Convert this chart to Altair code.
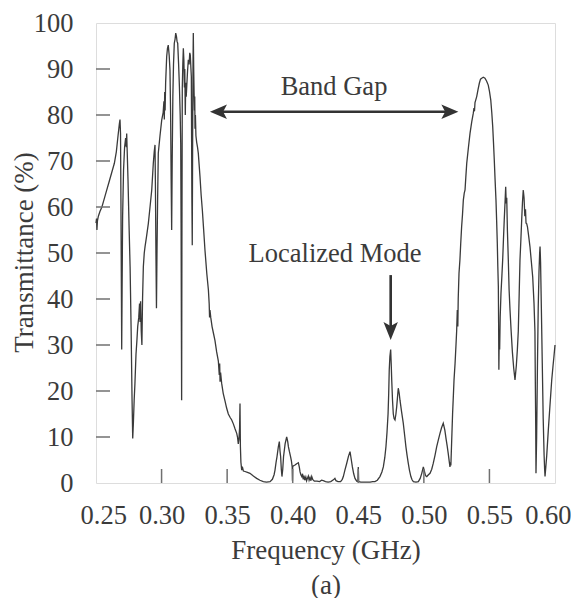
import altair as alt
import pandas as pd

# ---- spectrum ----
freq = [
    0.2500, 0.2504, 0.2507, 0.2511, 0.2518, 0.2530, 0.2545, 0.2560, 0.2580, 0.2600,
    0.2620, 0.2640, 0.2655, 0.2668, 0.2678, 0.2683, 0.2687, 0.2690, 0.2693, 0.2696,
    0.2699, 0.2703, 0.2710, 0.2718, 0.2726, 0.2731, 0.2734, 0.2738, 0.2744, 0.2752,
    0.2760, 0.2768, 0.2775, 0.2780, 0.2785, 0.2791, 0.2797, 0.2805, 0.2812, 0.2818,
    0.2826, 0.2832, 0.2836, 0.2840, 0.2845, 0.2850, 0.2855, 0.2861, 0.2868, 0.2874,
    0.2885, 0.2899, 0.2912, 0.2925, 0.2937, 0.2944, 0.2950, 0.2953, 0.2957, 0.2961,
    0.2965, 0.2970, 0.2975, 0.2988, 0.3001, 0.3012, 0.3018, 0.3021, 0.3024, 0.3027,
    0.3031, 0.3039, 0.3045, 0.3051, 0.3058, 0.3064, 0.3069, 0.3073, 0.3077, 0.3081,
    0.3086, 0.3091, 0.3097, 0.3103, 0.3108, 0.3114, 0.3118, 0.3123, 0.3130, 0.3136,
    0.3142, 0.3146, 0.3149, 0.3151, 0.3153, 0.3155, 0.3158, 0.3162, 0.3166, 0.3170,
    0.3174, 0.3177, 0.3181, 0.3184, 0.3188, 0.3192, 0.3198, 0.3204, 0.3210, 0.3215,
    0.3219, 0.3224, 0.3227, 0.3229, 0.3231, 0.3234, 0.3237, 0.3240, 0.3242, 0.3245,
    0.3248, 0.3251, 0.3253, 0.3255, 0.3258, 0.3262, 0.3268, 0.3274, 0.3280, 0.3293,
    0.3302, 0.3311, 0.3321, 0.3331, 0.3345, 0.3357, 0.3363, 0.3366, 0.3369, 0.3375,
    0.3385, 0.3396, 0.3407, 0.3420, 0.3433, 0.3440, 0.3443, 0.3446, 0.3450, 0.3458,
    0.3470, 0.3484, 0.3496, 0.3509, 0.3522, 0.3535, 0.3548, 0.3560, 0.3573, 0.3579,
    0.3585, 0.3590, 0.3595, 0.3598, 0.3601, 0.3605, 0.3611, 0.3618, 0.3624, 0.3636,
    0.3655, 0.3674, 0.3700, 0.3725, 0.3750, 0.3776, 0.3800, 0.3827, 0.3845, 0.3858,
    0.3865, 0.3873, 0.3880, 0.3890, 0.3898, 0.3903, 0.3908, 0.3913, 0.3918, 0.3924,
    0.3930, 0.3942, 0.3954, 0.3962, 0.3967, 0.3975, 0.3984, 0.3990, 0.3996, 0.3998,
    0.4000, 0.4010, 0.4018, 0.4030, 0.4043, 0.4050, 0.4056, 0.4062, 0.4069, 0.4075,
    0.4080, 0.4086, 0.4092, 0.4100, 0.4106, 0.4112, 0.4119, 0.4125, 0.4132, 0.4139,
    0.4145, 0.4152, 0.4165, 0.4185, 0.4205, 0.4220, 0.4233, 0.4250, 0.4270, 0.4290,
    0.4305, 0.4315, 0.4322, 0.4330, 0.4345, 0.4365, 0.4378, 0.4386, 0.4398, 0.4412,
    0.4425, 0.4437, 0.4447, 0.4455, 0.4465, 0.4475, 0.4488, 0.4497, 0.4500, 0.4503,
    0.4520, 0.4540, 0.4559, 0.4590, 0.4610, 0.4627, 0.4645, 0.4665, 0.4680, 0.4691,
    0.4702, 0.4711, 0.4719, 0.4727, 0.4732, 0.4736, 0.4741, 0.4747, 0.4751, 0.4755,
    0.4761, 0.4767, 0.4773, 0.4780, 0.4787, 0.4793, 0.4800, 0.4805, 0.4812, 0.4818,
    0.4830, 0.4843, 0.4855, 0.4863, 0.4872, 0.4881, 0.4890, 0.4901, 0.4910, 0.4920,
    0.4940, 0.4958, 0.4972, 0.4984, 0.4996, 0.5004, 0.5013, 0.5022, 0.5035, 0.5047,
    0.5060, 0.5072, 0.5085, 0.5098, 0.5110, 0.5123, 0.5135, 0.5148, 0.5160, 0.5170,
    0.5178, 0.5186, 0.5193, 0.5199, 0.5203, 0.5206, 0.5212, 0.5219, 0.5225, 0.5230,
    0.5238, 0.5245, 0.5250, 0.5255, 0.5259, 0.5262, 0.5268, 0.5275, 0.5281, 0.5288,
    0.5295, 0.5301, 0.5308, 0.5314, 0.5320, 0.5327, 0.5340, 0.5352, 0.5365, 0.5377,
    0.5382, 0.5386, 0.5390, 0.5403, 0.5413, 0.5423, 0.5432, 0.5441, 0.5453, 0.5466,
    0.5478, 0.5491, 0.5500, 0.5510, 0.5518, 0.5525, 0.5531, 0.5537, 0.5543, 0.5550,
    0.5555, 0.5560, 0.5564, 0.5568, 0.5570, 0.5572, 0.5575, 0.5578, 0.5582, 0.5588,
    0.5595, 0.5601, 0.5607, 0.5613, 0.5619, 0.5624, 0.5628, 0.5632, 0.5637, 0.5644,
    0.5650, 0.5657, 0.5665, 0.5675, 0.5685, 0.5695, 0.5705, 0.5713, 0.5720, 0.5727,
    0.5733, 0.5740, 0.5746, 0.5752, 0.5758, 0.5764, 0.5770, 0.5775, 0.5779, 0.5784,
    0.5790, 0.5800, 0.5809, 0.5820, 0.5830, 0.5840, 0.5847, 0.5850, 0.5853, 0.5855,
    0.5860, 0.5866, 0.5872, 0.5878, 0.5883, 0.5886, 0.5890, 0.5896, 0.5903, 0.5910,
    0.5917, 0.5921, 0.5924, 0.5930, 0.5937, 0.5949, 0.5962, 0.5975, 0.5985, 0.5992,
    0.6000,
]
trans = [
    56.5, 57.5, 55.0, 57.0, 58.0, 59.0, 60.0, 61.5, 63.5, 65.5,
    67.5, 69.5, 72.0, 75.5, 78.0, 79.0, 76.0, 62.0, 45.0, 29.0,
    42.0, 58.0, 68.0, 73.0, 75.0, 73.0, 76.0, 72.0, 66.0, 56.0,
    47.0, 33.0, 18.0, 9.7, 13.0, 18.0, 21.7, 28.0, 31.0, 34.0,
    36.0, 39.0, 35.0, 39.5, 33.0, 30.0, 40.0, 47.0, 50.0, 51.4,
    53.5, 56.4, 60.0, 63.7, 69.5, 72.0, 73.5, 65.0, 50.0, 38.0,
    50.0, 62.0, 71.7, 75.5, 78.9, 80.5, 83.0, 79.0, 85.0, 81.0,
    87.0, 92.7, 94.5, 95.2, 93.0, 89.8, 80.0, 66.0, 55.0, 70.0,
    84.0, 91.0, 95.6, 96.5, 97.8, 97.0, 96.0, 95.6, 91.0, 86.2,
    80.0, 73.8, 55.0, 35.0, 18.0, 50.0, 86.0, 91.0, 94.5, 92.0,
    86.0, 90.0, 80.0, 87.0, 84.0, 86.2, 89.5, 92.0, 91.0, 93.5,
    93.0, 90.0, 88.3, 75.0, 62.0, 51.7, 75.0, 92.0, 97.8, 90.0,
    84.8, 81.0, 84.0, 77.0, 80.0, 75.5, 74.0, 73.0, 71.7, 66.6,
    62.5, 59.3, 55.0, 50.6, 45.5, 42.0, 39.0, 36.0, 37.6, 36.0,
    34.0, 32.5, 31.0, 28.5, 26.5, 23.5, 26.0, 22.0, 24.0, 21.7,
    19.5, 17.8, 16.3, 15.0, 14.3, 13.7, 12.8, 11.8, 10.8, 10.0,
    8.5, 9.5, 12.0, 17.3, 8.0, 4.5, 2.8, 3.3, 2.6, 2.5,
    2.3, 2.1, 1.5, 1.0, 0.6, 0.3, 0.2, 0.3, 0.8, 1.8,
    2.8, 4.5, 5.7, 7.8, 9.0, 7.0, 5.7, 3.0, 1.4, 3.0,
    5.7, 8.5, 10.0, 9.0, 7.9, 6.8, 5.7, 4.8, 3.5, 0.5,
    3.6, 3.8, 3.9, 4.2, 4.4, 3.5, 2.4, 1.8, 1.4, 2.0,
    0.8, 1.6, 0.6, 1.3, 0.5, 1.0, 1.5, 0.6, 1.2, 0.5,
    1.4, 0.8, 0.4, 0.4, 0.3, 0.6, 0.5, 0.3, 0.2, 0.3,
    0.6, 0.8, 1.0, 0.5, 0.3, 0.3, 0.8, 1.4, 2.8, 4.3,
    5.8, 6.8, 5.0, 3.5, 2.0, 1.0, 0.4, 0.3, 3.5, 0.3,
    0.2, 0.2, 0.2, 0.2, 0.3, 0.3, 0.6, 1.4, 2.4, 3.5,
    5.5, 7.9, 11.0, 15.0, 19.5, 24.5, 27.5, 29.0, 26.0, 22.4,
    18.0, 15.0, 14.0, 13.7, 15.0, 16.6, 19.0, 20.6, 19.5, 18.0,
    15.5, 13.0, 10.0, 7.9, 6.0, 4.3, 2.8, 1.4, 0.7, 0.3,
    0.2, 0.3, 1.0, 2.1, 3.5, 2.6, 1.6, 1.4, 1.8, 2.1,
    3.0, 4.3, 6.0, 7.9, 9.3, 10.8, 12.0, 13.0, 11.5, 9.5,
    8.0, 6.4, 4.8, 3.5, 4.5, 3.8, 9.0, 15.0, 19.0, 22.4,
    26.0, 30.0, 33.0, 37.6, 34.0, 40.0, 45.6, 48.5, 52.0, 55.7,
    58.5, 61.5, 63.0, 63.7, 66.5, 69.5, 73.0, 76.0, 78.5, 80.4,
    81.5, 80.8, 82.7, 84.0, 85.5, 86.9, 87.8, 88.0, 88.2, 88.0,
    87.4, 86.5, 85.2, 83.3, 80.5, 77.5, 74.0, 70.2, 66.0, 61.5,
    57.0, 52.1, 47.0, 42.7, 35.0, 24.6, 33.0, 29.0, 36.0, 41.2,
    45.0, 48.5, 53.0, 57.2, 61.0, 64.4, 60.8, 62.0, 55.0, 48.5,
    42.0, 37.6, 33.3, 28.5, 25.0, 22.4, 25.5, 29.0, 33.0, 41.2,
    48.5, 53.0, 57.2, 61.0, 63.7, 62.0, 58.0, 59.5, 56.5, 56.4,
    55.7, 53.5, 51.4, 48.0, 44.8, 39.0, 33.0, 22.0, 12.2, 2.1,
    10.0, 25.0, 38.0, 46.0, 50.0, 51.4, 48.0, 38.0, 26.0, 14.0,
    6.0, 3.0, 1.4, 3.5, 6.0, 11.5, 17.0, 22.4, 25.5, 27.5,
    30.0,
]

# ---- axes ----
x_ticks = [0.25, 0.30, 0.35, 0.40, 0.45, 0.50, 0.55, 0.60]
y_ticks = [0, 10, 20, 30, 40, 50, 60, 70, 80, 90, 100]
x_inner_ticks = [0.30, 0.35, 0.40, 0.45, 0.50, 0.55]
y_inner_ticks = [10, 20, 30, 40, 50, 60, 70, 80, 90]

# ---- annotations (data units) ----
band_label = ["Band Gap"]
band_label_f = [0.4315]
band_label_T = [84.3]
band_arrow_f = [0.3369]
band_arrow_f2 = [0.5263]
band_arrow_T = [80.7]
mode_label = ["Localized Mode"]
mode_label_f = [0.4323]
mode_label_T = [48.0]
mode_arrow_f = [0.4747]
mode_arrow_top = [45.2]
mode_arrow_tip = [31.1]

FONT = "Liberation Serif"
TXT = "#3b3b3b"
LINE = "#3a3a3a"
FRAME = "#707070"
FS_LAB = 26.5
FS_TTL = 27
FS_ANN = 26.5

W, H = 459, 460
xs = alt.Scale(domain=[0.25, 0.60], nice=False, zero=False)
ys = alt.Scale(domain=[0, 100], nice=False, zero=False)

spec_df = pd.DataFrame({"f": freq, "T": trans})

x_axis = alt.Axis(
    values=x_ticks, format=".2f", ticks=False, tickSize=0, domain=False, grid=False,
    labelFont=FONT, labelFontSize=FS_LAB, labelColor=TXT, labelPadding=40,
    labelBaseline="alphabetic", labelFlush=True, labelFlushOffset=16, labelOverlap=False,
    title=["Frequency (GHz)", "(a)"], titleFont=FONT, titleFontSize=FS_TTL,
    titleFontWeight="normal", titleColor=TXT, titleBaseline="alphabetic",
    titleAlign="center", titleX=W / 2, titleY=75, titleLineHeight=35,
)
y_axis = alt.Axis(
    values=y_ticks, format="d", ticks=False, tickSize=0, domain=False, grid=False,
    labelFont=FONT, labelFontSize=FS_LAB, labelColor=TXT, labelPadding=23,
    labelAlign="right", labelBaseline="middle", labelFlush=False, labelOverlap=False,
    title="Transmittance (%)", titleFont=FONT, titleFontSize=FS_TTL,
    titleFontWeight="normal", titleColor=TXT, titleAngle=270,
    titleBaseline="alphabetic", titleAlign="center", titleX=-64, titleY=229,
)


def X(field):
    return alt.X(field, type="quantitative", scale=xs, axis=x_axis)


def Y(field):
    return alt.Y(field, type="quantitative", scale=ys, axis=y_axis)


line = alt.Chart(spec_df).mark_line(color=LINE, strokeWidth=1.3, interpolate="linear").encode(
    x=X("f"), y=Y("T"), order="f:Q",
)

xt = alt.Chart(pd.DataFrame({"f": x_inner_ticks})).mark_rule(color=FRAME, strokeWidth=1.5).encode(
    x=X("f"), y=alt.value(H), y2=alt.value(H - 14),
)
yt = alt.Chart(pd.DataFrame({"T": y_inner_ticks})).mark_rule(color=FRAME, strokeWidth=1.5).encode(
    y=Y("T"), x=alt.value(0), x2=alt.value(14),
)

band_df = pd.DataFrame({"f": band_arrow_f, "f2": band_arrow_f2, "T": band_arrow_T})
band_shaft = alt.Chart(band_df).mark_rule(color="#333333", strokeWidth=2.6).encode(
    x=X("fa"), x2="fb:Q", y=Y("T"),
).transform_calculate(fa="datum.f + 0.006", fb="datum.f2 - 0.006")

head_px = 8.5 * 0.35 / W
left_head = alt.Chart(band_df).mark_point(
    shape="M-1,0L1,-0.85L0.55,0L1,0.85Z", size=289, filled=True, opacity=1,
    color="#333333", strokeWidth=0,
).encode(
    x=X("hx"), y=Y("T"),
).transform_calculate(hx=f"datum.f + {head_px}")
right_head = alt.Chart(band_df).mark_point(
    shape="M1,0L-1,-0.85L-0.55,0L-1,0.85Z", size=289, filled=True, opacity=1,
    color="#333333", strokeWidth=0,
).encode(
    x=X("hx"), y=Y("T"),
).transform_calculate(hx=f"datum.f2 - {head_px}")

band_text = alt.Chart(pd.DataFrame({"f": band_label_f, "T": band_label_T, "t": band_label})).mark_text(
    font=FONT, fontSize=FS_ANN, color=TXT, align="center", baseline="alphabetic",
).encode(
    x=X("f"), y=Y("T"), text="t:N",
)

mode_df = pd.DataFrame({"f": mode_arrow_f, "T": mode_arrow_top, "T2": mode_arrow_tip})
vhead = 9 * 100 / H
mode_shaft = alt.Chart(mode_df).mark_rule(color="#333333", strokeWidth=2.6).encode(
    x=X("f"), y=Y("T"), y2="tb:Q",
).transform_calculate(tb="datum.T2 + 2.5")
down_head = alt.Chart(mode_df).mark_point(
    shape="M0,1L-0.8,-1L0,-0.55L0.8,-1Z", size=324, filled=True, opacity=1,
    color="#333333", strokeWidth=0,
).encode(
    x=X("f"), y=Y("hy"),
).transform_calculate(hy=f"datum.T2 + {vhead}")
mode_text = alt.Chart(pd.DataFrame({"f": mode_label_f, "T": mode_label_T, "t": mode_label})).mark_text(
    font=FONT, fontSize=FS_ANN, color=TXT, align="center", baseline="alphabetic",
).encode(
    x=X("f"), y=Y("T"), text="t:N",
)

chart = alt.layer(
    line, xt, yt, band_shaft, left_head, right_head, band_text, mode_shaft, down_head, mode_text
).properties(
    width=W, height=H,
    autosize=alt.AutoSizeParams(type="none"),
    padding={"left": 88, "top": 15, "right": 16, "bottom": 115},
).configure_view(
    stroke=FRAME, strokeWidth=1.5,
).configure(background="white")

chart.save("out.html", embed_options={"renderer": "svg", "actions": False})
